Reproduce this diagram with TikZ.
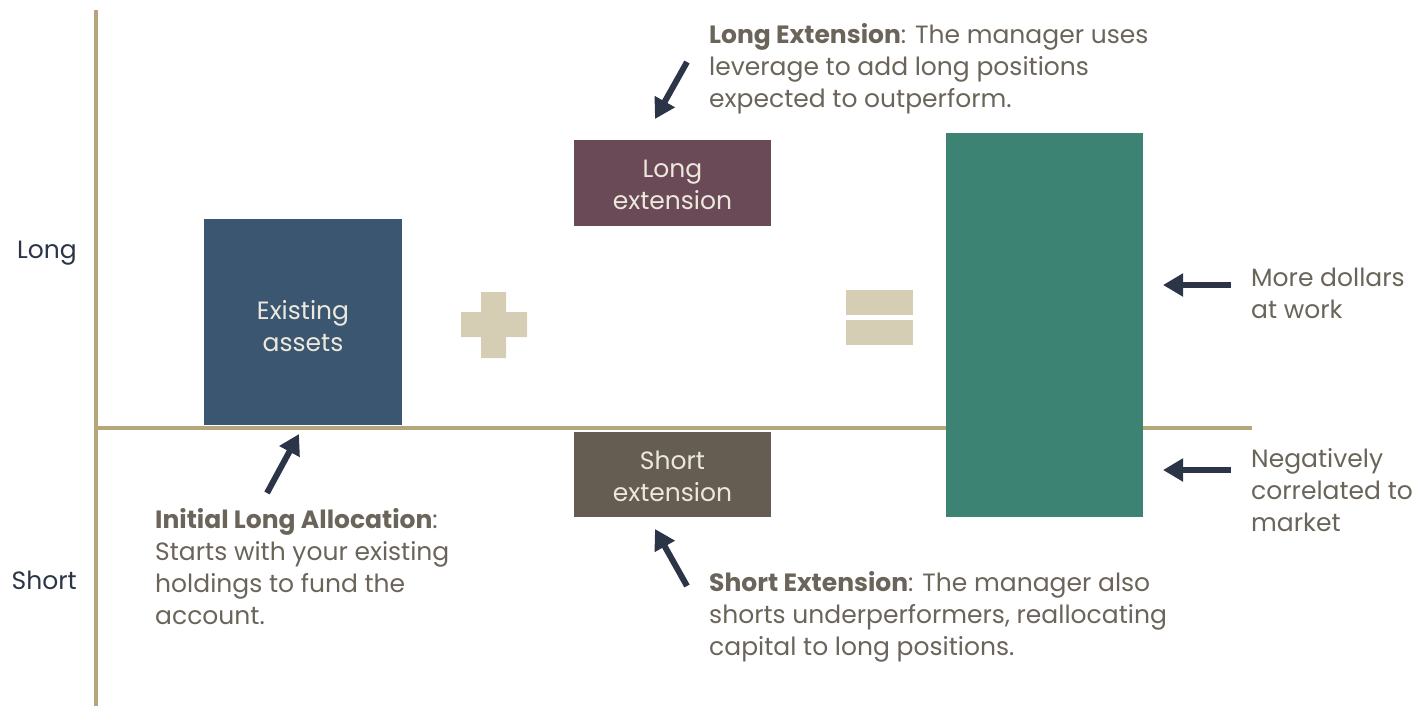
\documentclass[tikz,border=0pt]{standalone}
\usepackage{fontspec}
\setmainfont{Poppins}
\usetikzlibrary{arrows.meta}
\definecolor{axiscol}{HTML}{B5A77A}
\definecolor{navy}{HTML}{2B3547}
\definecolor{txtcol}{HTML}{6B645A}
\definecolor{boxtxt}{HTML}{ECE8DC}
\definecolor{existcol}{HTML}{3A5670}
\definecolor{longcol}{HTML}{6B4A57}
\definecolor{shortcol}{HTML}{665D52}
\definecolor{greencol}{HTML}{3C8373}
\definecolor{signcol}{HTML}{D6CDB5}
\begin{document}
\begin{tikzpicture}[x=1pt,y=-1pt,
  axisline/.style={draw=axiscol,line width=4pt},
  barbox/.style={inner sep=0pt,text=boxtxt,align=center,font=\fontsize{25}{32}\selectfont},
  note/.style={inner sep=0pt,text=txtcol,align=left,anchor=west,font=\fontsize{25}{32}\selectfont},
  sidelabel/.style={inner sep=0pt,text=navy,anchor=east,font=\fontsize{25}{32}\selectfont},
  pointer/.style={draw=navy,line width=6pt,-{Triangle[width=22pt,length=20pt]}},
  sign/.style={fill=signcol}]
\useasboundingbox (0,0) rectangle (1427,713);
% axes
\coordinate (vtop) at (96,10);
\coordinate (vbot) at (96,706);
\coordinate (hleft) at (94,428);
\coordinate (hright) at (1252,428);
\draw[axisline] (vtop) -- (vbot);
\draw[axisline] (hleft) -- (hright);
% boxes
\node[barbox,fill=existcol,minimum width=198pt,minimum height=206pt] (exist) at (303,322) {};
\node[barbox,fill=longcol,minimum width=197pt,minimum height=86pt] (longext) at (672.5,183) {};
\node[barbox,fill=shortcol,minimum width=197pt,minimum height=85pt] (shortext) at (672.5,474.5) {};
\node[fill=greencol,inner sep=0pt,minimum width=197pt,minimum height=384pt] (total) at (1044.5,325) {};
\node[barbox] (existtxt) at ([yshift=-4pt]exist.center) {Existing\\assets};
\node[barbox] (longtxt) at ([yshift=-2pt]longext.center) {Long\\extension};
\node[barbox] (shorttxt) at ([yshift=-2pt]shortext.center) {Short\\extension};
% plus and equals
\fill[sign] (481,292) -- (506,292) -- (506,312) -- (527,312) -- (527,337) -- (506,337) -- (506,358) -- (481,358) -- (481,337) -- (461,337) -- (461,312) -- (481,312) -- cycle;
\fill[sign] (846,290) rectangle (913,315);
\fill[sign] (846,320) rectangle (913,345);
% side labels
\node[sidelabel] (longlbl) at (77,253) {Long};
\node[sidelabel] (shortlbl) at (77,580) {Short};
% notes
\node[note] (notelong) at (709,69) {\textbf{Long Extension}: The manager uses\\leverage to add long positions\\expected to outperform.};
\node[note] (noteinit) at (155,566.5) {\textbf{Initial Long Allocation}:\\Starts with your existing\\holdings to fund the\\account.};
\node[note] (noteshort) at (709,617) {\textbf{Short Extension}: The manager also\\shorts underperformers, reallocating\\capital to long positions.};
\node[note] (notemore) at (1251,293) {More dollars\\at work};
\node[note] (noteneg) at (1251,490) {Negatively\\correlated to\\market};
% arrows
\coordinate (a1s) at (687,62); \coordinate (a1e) at (655,119);
\coordinate (a2s) at (267,493); \coordinate (a2e) at (299,434);
\coordinate (a3s) at (687,586); \coordinate (a3e) at (655,529);
\coordinate (a4s) at (1231,285); \coordinate (a4e) at (1163,285);
\coordinate (a5s) at (1231,470); \coordinate (a5e) at (1163,470);
\draw[pointer] (a1s) -- (a1e);
\draw[pointer] (a2s) -- (a2e);
\draw[pointer] (a3s) -- (a3e);
\draw[pointer] (a4s) -- (a4e);
\draw[pointer] (a5s) -- (a5e);
\end{tikzpicture}
\end{document}
